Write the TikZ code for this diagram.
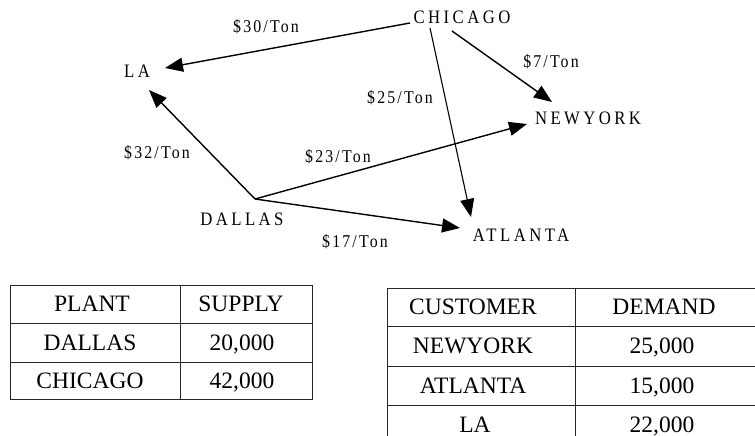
\documentclass[tikz,border=0pt]{standalone}
\usepackage{fontspec}
\setmainfont{Liberation Serif}
\newfontfamily\cityfont[LetterSpace=18,FakeStretch=0.88]{Liberation Serif}
\newfontfamily\ratefont[LetterSpace=12,FakeStretch=0.88]{Liberation Serif}
\usetikzlibrary{arrows.meta}

\begin{document}
\begin{tikzpicture}[x=1pt,y=-1pt,
  city/.style={font=\cityfont\fontsize{19}{19}\selectfont, inner sep=0pt,
               text height=12.6pt, text depth=0pt},
  rate/.style={font=\ratefont\fontsize{18}{18}\selectfont, inner sep=0pt,
               text height=11.9pt, text depth=0pt},
  route/.style={line width=1.4pt, -{Triangle[length=18pt,width=14pt]}},
  cell/.style={font=\fontsize{23.5}{24}\selectfont, inner sep=0pt,
               text height=15.6pt, text depth=0pt},
  gridline/.style={line width=0.9pt, black!85}]
\useasboundingbox (0,0) rectangle (755,436);
\clip (0,0) rectangle (755,436);

% cities
\node[city] (chi) at (462,17)  {CHICAGO};
\node[city] (la)  at (137,71)  {LA};
\node[city] (ny)  at (588,118) {NEWYORK};
\node[city] (dal) at (242,219) {DALLAS};
\node[city] (atl) at (521,235) {ATLANTA};

% route end points
\coordinate (dalhub) at (255,199);
\coordinate (chiA) at (410,23);
\coordinate (chiB) at (430,28);
\coordinate (chiC) at (452,31);
\coordinate (laA)  at (165,68);
\coordinate (laB)  at (149,90);
\coordinate (nyA)  at (552,102);
\coordinate (nyB)  at (527,124);
\coordinate (atlA) at (471,217);
\coordinate (atlB) at (460,228);

% shipping routes
\draw[route] (chiA) -- (laA);
\draw[route, line width=1.1pt] (chiB) -- (atlA);
\draw[route] (chiC) -- (nyA);
\draw[route] (dalhub) -- (laB);
\draw[route] (dalhub) -- (nyB);
\draw[route] (dalhub) -- (atlB);

% costs
\node[rate] (r30) at (266,27)  {\$30/Ton};
\node[rate] (r7)  at (551,62)  {\$7/Ton};
\node[rate] (r25) at (400,98)  {\$25/Ton};
\node[rate] (r32) at (157,153) {\$32/Ton};
\node[rate] (r23) at (338,157) {\$23/Ton};
\node[rate] (r17) at (355,242) {\$17/Ton};

% supply table
\draw[gridline] (10,285) rectangle (312,399);
\draw[gridline] (10,323) -- (312,323) (10,362) -- (312,362) (180,285) -- (180,399);
\node[cell] (plant)  at (92,304)    {PLANT};
\node[cell] (supply) at (241,304)   {SUPPLY};
\node[cell] (pdal)   at (90,342.5)  {DALLAS};
\node[cell] (sdal)   at (242,342.5) {20,000};
\node[cell] (pchi)   at (90,380.5)  {CHICAGO};
\node[cell] (schi)   at (242,380.5) {42,000};

% demand table
\draw[gridline] (760,288) -- (387,288) -- (387,445);
\draw[gridline] (387,326) -- (760,326) (387,366) -- (760,366) (387,405) -- (760,405)
                (575,288) -- (575,445);
\node[cell] (cust)   at (473,307)   {CUSTOMER};
\node[cell] (demand) at (664,307)   {DEMAND};
\node[cell] (cny)    at (473,346)   {NEWYORK};
\node[cell] (dny)    at (662,346)   {25,000};
\node[cell] (catl)   at (473,385.5) {ATLANTA};
\node[cell] (datl)   at (662,385.5) {15,000};
\node[cell] (cla)    at (475,424.5) {LA};
\node[cell] (dla)    at (662,424.5) {22,000};
\end{tikzpicture}
\end{document}
